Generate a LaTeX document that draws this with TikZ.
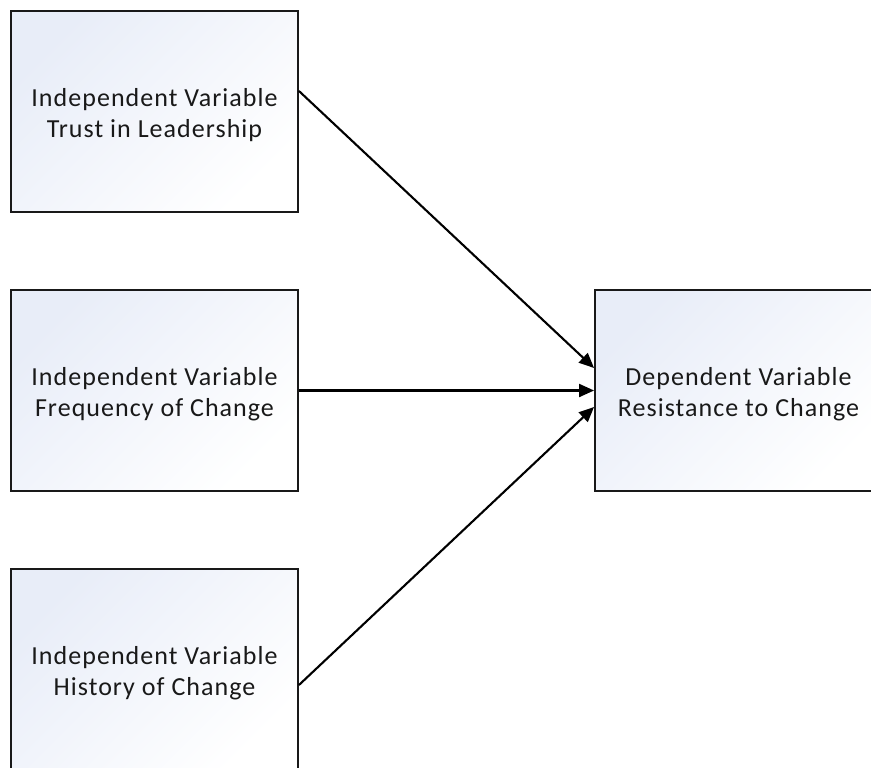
\documentclass[tikz,border=0pt]{standalone}
\usepackage{fontspec}
\setmainfont[LetterSpace=4]{Carlito}
\usetikzlibrary{arrows.meta}
\definecolor{boxblue}{HTML}{E8EDF8}
\tikzset{
  var/.style={draw=black!90, line width=1.9pt, minimum width=287pt, minimum height=201pt,
    inner sep=0pt, shading=axis, top color=boxblue, bottom color=white, shading angle=45},
  lbl/.style={align=center, font=\fontsize{26}{31}\selectfont, text=black!90, inner sep=0pt},
  conn/.style={line width=2.1pt, -{Triangle[length=15pt,width=13pt]}}
}
\begin{document}
\begin{tikzpicture}[x=1pt,y=-1pt]
\useasboundingbox (0,0) rectangle (871,768);
\node[var] (b1) at (154.5,111.5) {};
\node[var] (b2) at (154.5,390.5) {};
\node[var] (b3) at (154.5,669.5) {};
\node[var] (d) at (738.5,390.5) {};
\node[lbl] (t1) at ([yshift=-4pt]b1.center) {Independent Variable\\Trust in Leadership};
\node[lbl] (t2) at ([yshift=-4pt]b2.center) {Independent Variable\\Frequency of Change};
\node[lbl] (t3) at ([yshift=-4pt]b3.center) {Independent Variable\\History of Change};
\node[lbl] (td) at ([yshift=-4pt]d.center) {Dependent Variable\\Resistance to Change};
\draw[conn] ([yshift=20.5pt]b1.east) -- ([yshift=22.5pt]d.west);
\draw[conn] (b2.east) -- (d.west);
\draw[conn] ([yshift=-15.5pt]b3.east) -- ([yshift=-16.5pt]d.west);
\end{tikzpicture}
\end{document}
